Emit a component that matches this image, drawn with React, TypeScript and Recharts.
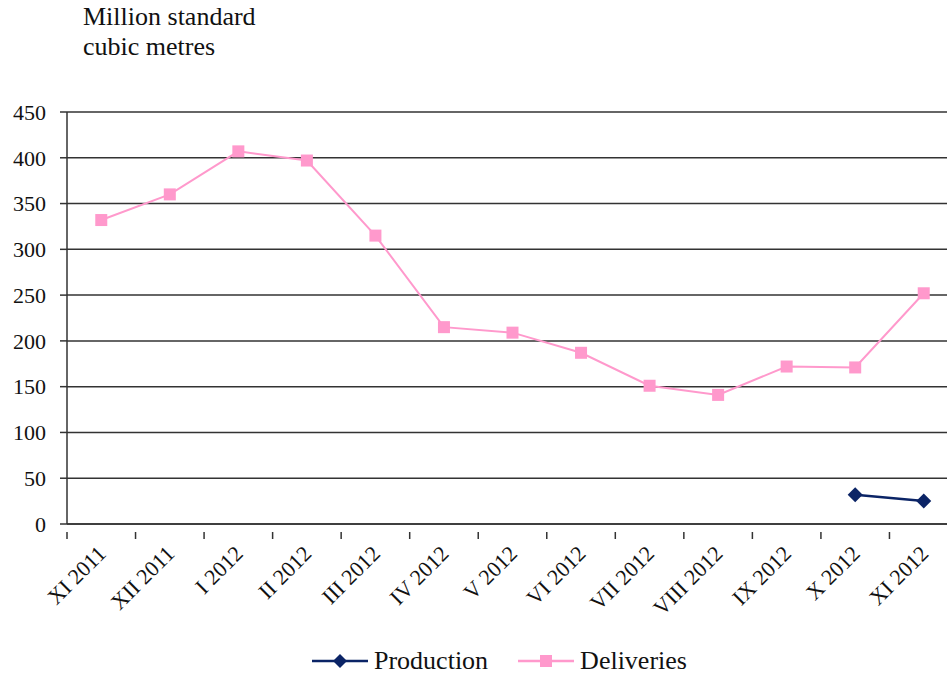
import React from 'react';
import { LineChart, Line, XAxis, YAxis, CartesianGrid } from 'recharts';

const months = [
  'XI 2011', 'XII 2011', 'I 2012', 'II 2012', 'III 2012', 'IV 2012', 'V 2012',
  'VI 2012', 'VII 2012', 'VIII 2012', 'IX 2012', 'X 2012', 'XI 2012',
];
const deliveries = [332, 360, 407, 397, 315, 215, 209, 187, 151, 141, 172, 171, 252];
const production = [null, null, null, null, null, null, null, null, null, null, null, 32, 25];
const yTicks = [0, 50, 100, 150, 200, 250, 300, 350, 400, 450];

const data = months.map((m, i) => ({ month: m, production: production[i], deliveries: deliveries[i] }));

const FONT = '"Liberation Serif", "Times New Roman", Times, serif';
const PINK = '#ff99cc';
const NAVY = '#0b2466';

const CHART_W = 958;
const CHART_H = 676;
const LEFT = 67;
const BAND = (CHART_W - LEFT) / months.length;

const SquareDot = (props: any) => {
  const { cx, cy, index } = props;
  if (cx == null || cy == null) return <g key={index} />;
  return <rect key={index} x={cx - 6} y={cy - 6} width={12} height={12} fill={PINK} />;
};

const DiamondDot = (props: any) => {
  const { cx, cy, index, value } = props;
  if (cx == null || cy == null || value == null) return <g key={index} />;
  return (
    <path
      key={index}
      d={`M${cx},${cy - 7.5} L${cx + 7.5},${cy} L${cx},${cy + 7.5} L${cx - 7.5},${cy} Z`}
      fill={NAVY}
    />
  );
};

// month label rotated 45°, plus the tick mark on the left edge of each band
const MonthTick = (props: any) => {
  const { x, y, payload } = props;
  const tx = x - BAND / 2;
  const ax = x + 6;
  const ay = y + 23;
  return (
    <g>
      <line x1={tx} y1={y} x2={tx} y2={y + 7} stroke="#333" strokeWidth={1.5} />
      <text
        x={ax}
        y={ay}
        transform={`rotate(-45, ${ax}, ${ay})`}
        textAnchor="end"
        fontFamily={FONT}
        fontSize={22}
        fill="#111"
      >
        {payload.value}
      </text>
    </g>
  );
};

const LegendItem = ({ color, label, marker }: { color: string; label: string; marker: 'diamond' | 'square' }) => (
  <div style={{ display: 'flex', alignItems: 'center', marginRight: 30 }}>
    <svg width={56} height={20} style={{ marginRight: 6 }}>
      <line x1={0} y1={10} x2={56} y2={10} stroke={color} strokeWidth={2.5} />
      {marker === 'diamond' ? (
        <path d="M28,3 L35,10 L28,17 L21,10 Z" fill={color} />
      ) : (
        <rect x={22} y={4} width={12} height={12} fill={color} />
      )}
    </svg>
    <span>{label}</span>
  </div>
);

export default function App() {
  return (
    <div
      style={{
        position: 'absolute',
        left: 0,
        top: 0,
        width: 947,
        height: 676,
        overflow: 'hidden',
        background: '#fff',
        fontFamily: FONT,
        color: '#111',
      }}
    >
      <div style={{ position: 'absolute', left: 83, top: 2, fontSize: 26, lineHeight: '30px' }}>
        Million standard
        <br />
        cubic metres
      </div>

      <LineChart
        width={CHART_W}
        height={CHART_H}
        data={data}
        margin={{ top: 112, right: 0, bottom: 52, left: 0 }}
      >
        <CartesianGrid horizontal vertical={false} stroke="#333" strokeWidth={1.5} />
        <XAxis
          dataKey="month"
          interval={0}
          height={100}
          padding={{ left: BAND / 2, right: BAND / 2 }}
          tick={<MonthTick />}
          tickLine={false}
          axisLine={{ stroke: '#333', strokeWidth: 1.5 }}
        />
        <YAxis
          width={LEFT}
          domain={[0, 450]}
          ticks={yTicks}
          interval={0}
          tickSize={7}
          tickMargin={14}
          tick={{ fontFamily: FONT, fontSize: 22, fill: '#111' }}
          tickLine={{ stroke: '#333', strokeWidth: 1.5 }}
          axisLine={{ stroke: '#333', strokeWidth: 1.5 }}
        />
        <Line
          dataKey="production"
          stroke={NAVY}
          strokeWidth={2.5}
          dot={<DiamondDot />}
          activeDot={false}
          connectNulls={false}
          isAnimationActive={false}
        />
        <Line
          dataKey="deliveries"
          stroke={PINK}
          strokeWidth={2}
          dot={<SquareDot />}
          activeDot={false}
          isAnimationActive={false}
        />
      </LineChart>

      <div
        style={{
          position: 'absolute',
          left: 312,
          top: 646,
          display: 'flex',
          alignItems: 'center',
          fontSize: 26,
          lineHeight: '30px',
        }}
      >
        <LegendItem color={NAVY} label="Production" marker="diamond" />
        <LegendItem color={PINK} label="Deliveries" marker="square" />
      </div>
    </div>
  );
}
